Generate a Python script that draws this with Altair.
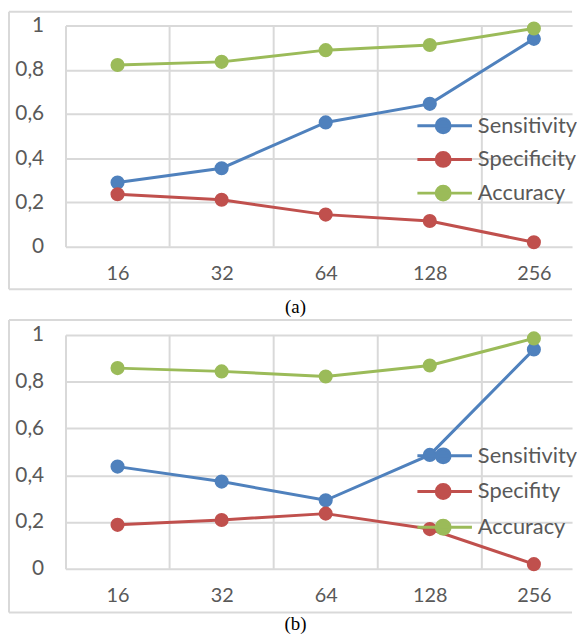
import json
import altair as alt
import pandas as pd

# ---- data ----
categories = ["16", "32", "64", "128", "256"]
y_ticks = [0, 0.2, 0.4, 0.6, 0.8, 1]
colors = ["#4F81BD", "#C0504D", "#9BBB59"]

series_a = ["Sensitivity", "Specificity", "Accuracy"]
sens_a = [0.29, 0.355, 0.562, 0.646, 0.94]
spec_a = [0.237, 0.212, 0.145, 0.116, 0.02]
acc_a = [0.822, 0.836, 0.889, 0.912, 0.987]

series_b = ["Sensitivity", "Specifity", "Accuracy"]
sens_b = [0.437, 0.373, 0.293, 0.487, 0.938]
spec_b = [0.188, 0.209, 0.236, 0.17, 0.02]
acc_b = [0.858, 0.844, 0.822, 0.869, 0.985]

FONT = "Lato"
GRID = "#d9d9d9"
TEXT = "#595959"
W = 511          # visible plot width (the last category band runs past the edge)
STEP = 105       # width of one category band
PATH = "M-1,0H6.86M1.714,0A1,1,0,1,1,3.714,0A1,1,0,1,1,1.714,0Z"

idx = list(range(len(categories)))
boundaries = [i + 0.5 for i in idx[:-1]]
label_expr = json.dumps(categories) + "[datum.value]"


def panel(names, sens, spec, acc, caption, H, frame_top, frame_bottom,
          caption_y, legend_y, row_pad):
    rows = []
    for name, vals in zip(names, [sens, spec, acc]):
        for i, c, v in zip(idx, categories, vals):
            rows.append({"idx": i, "cat": c, "series": name, "value": v})
    df = pd.DataFrame(rows)

    xscale = alt.Scale(domain=[-0.5, -0.5 + W / STEP], nice=False, zero=False)
    xaxis = alt.Axis(title=None, ticks=False, domain=False, grid=False,
                     values=idx, labelExpr=label_expr,
                     labelAngle=0, labelPadding=17, labelFont=FONT,
                     labelFontSize=20, labelColor=TEXT)
    x = alt.X("idx:Q", scale=xscale, axis=xaxis)
    yaxis = alt.Axis(title=None, ticks=False, domain=True, domainColor=GRID,
                     domainWidth=2, grid=True, gridColor=GRID, gridWidth=2,
                     values=y_ticks, format="~g",
                     labelExpr="replace(datum.label, '.', ',')",
                     labelPadding=22, labelFont=FONT, labelFontSize=21,
                     labelColor=TEXT)
    yscale = alt.Scale(domain=[0, 1], nice=False)
    y = alt.Y("value:Q", scale=yscale, axis=yaxis)

    sc = alt.Scale(domain=names, range=colors)
    leg = alt.Legend(orient="none", legendX=351, legendY=legend_y, title=None,
                     symbolType=PATH, symbolSize=196, symbolStrokeWidth=3,
                     symbolOpacity=1, labelFont=FONT, labelFontSize=22,
                     labelColor=TEXT, rowPadding=row_pad, labelOffset=43,
                     padding=0)

    one = pd.DataFrame({"k": [0]})
    frame_left = alt.Chart(one).mark_rule(color=GRID, strokeWidth=2).encode(
        x=alt.value(-57), y=alt.value(frame_top), y2=alt.value(frame_bottom))
    frame_topl = alt.Chart(one).mark_rule(color=GRID, strokeWidth=2).encode(
        x=alt.value(-57), x2=alt.value(W), y=alt.value(frame_top))
    frame_bot = alt.Chart(one).mark_rule(color=GRID, strokeWidth=2).encode(
        x=alt.value(-57), x2=alt.value(W), y=alt.value(frame_bottom))

    vgrid = alt.Chart(pd.DataFrame({"b": boundaries})).mark_rule(
        color=GRID, strokeWidth=2).encode(
        x=alt.X("b:Q", scale=xscale, axis=xaxis),
        y=alt.datum(0, scale=yscale, axis=yaxis), y2=alt.datum(1))

    lines = alt.Chart(df).mark_line(strokeWidth=3).encode(
        x=x, y=y, stroke=alt.Stroke("series:N", sort=names, scale=sc, legend=leg),
        detail="series:N")
    pts = alt.Chart(df).mark_circle(size=150, opacity=1).encode(
        x=x, y=y,
        fill=alt.Fill("series:N", sort=names, scale=sc, legend=leg),
        stroke=alt.Stroke("series:N", sort=names, scale=sc, legend=leg))

    cap = alt.Chart(pd.DataFrame({"t": [caption]})).mark_text(
        font="Liberation Serif", fontSize=19, color="#000000",
        baseline="middle", align="center").encode(
        text="t:N", x=alt.value(232), y=alt.value(caption_y))

    return alt.layer(frame_left, frame_topl, frame_bot, vgrid, lines, pts, cap
                     ).properties(width=W, height=H)


pa = panel(series_a, sens_a, spec_a, acc_a, "(a)", 223, -14, 266, 284, 90, 8)
pb = panel(series_b, sens_b, spec_b, acc_b, "(b)", 236, -15, 280, 292, 111, 10)

chart = alt.vconcat(pa, pb, spacing=2).properties(padding=0, background="white"
    ).configure_view(stroke=None).resolve_scale(stroke="independent", fill="independent")

chart.save("out.html", embed_options={"renderer": "svg", "actions": False})
